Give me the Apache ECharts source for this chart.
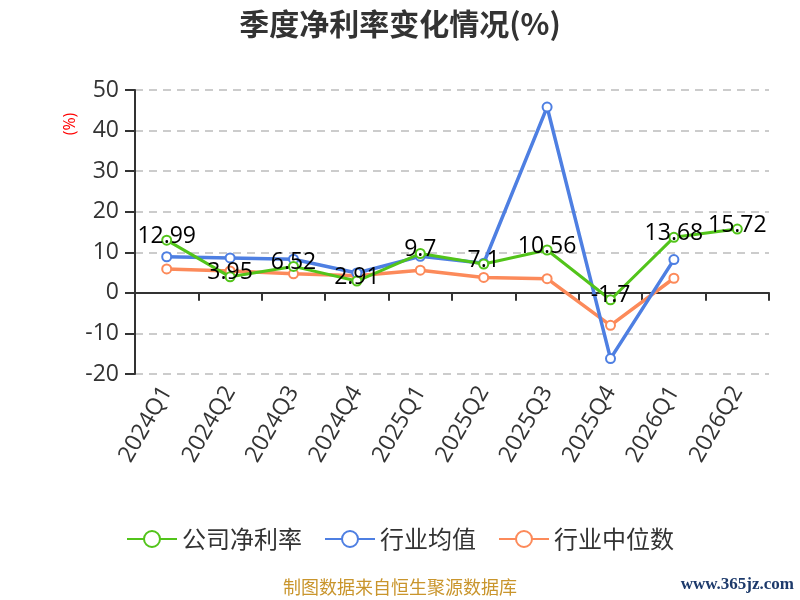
<!DOCTYPE html>
<html>
<head>
<meta charset="utf-8">
<title>季度净利率变化情况</title>
<script src="https://cdn.jsdelivr.net/npm/echarts@6/dist/echarts.min.js"></script>
<style>
    html, body { margin: 0; padding: 0; background: #fff; }
    #line { width: 800px; height: 600px; }
</style>
</head>
<body>
<div id="line"></div>
<script>
// 季度
const quarters = ['2024Q1', '2024Q2', '2024Q3', '2024Q4', '2025Q1', '2025Q2', '2025Q3', '2025Q4', '2026Q1', '2026Q2'];
// 公司净利率
const companyRate = [12.99, 3.95, 6.52, 2.91, 9.7, 7.1, 10.56, -1.7, 13.68, 15.72];
// 行业均值
const industryAvg = [8.9, 8.6, 8.3, 4.9, 9.0, 7.3, 45.8, -16.2, 8.2, null];
// 行业中位数
const industryMedian = [5.9, 5.4, 4.7, 4.2, 5.6, 3.8, 3.5, -8.0, 3.6, null];

const yTicks = { min: -20, max: 50, interval: 10 };

const fontFamily = '"Open Sans", "Noto Sans CJK SC", sans-serif';

function line_chart() {
    // 初始化实例
    let chartDom = document.getElementById('line');
    let chart = echarts.init(chartDom);
    window.addEventListener('resize', function () {
        chart.resize();
    });

    let option = {
        animation: false,
        textStyle: { fontFamily: fontFamily },
        title: {
            text: '季度净利率变化情况(%)',
            left: 'center',
            top: 4,
            textStyle: { fontSize: 30, fontWeight: 'bold', color: '#333', fontFamily: '"Noto Sans CJK SC", sans-serif' }
        },
        legend: {
            top: 522,
            left: 'center',
            itemWidth: 50,
            itemHeight: 20,
            itemGap: 22,
            textStyle: { fontSize: 24, color: '#333', fontFamily: '"Noto Sans CJK SC", sans-serif' },
            data: ['公司净利率', '行业均值', '行业中位数']
        },
        grid: { left: 135, right: 31, top: 90, bottom: 226 },
        xAxis: [
            {
                // 零轴上的轴线和刻度
                type: 'category',
                data: quarters,
                position: 'bottom',
                axisLine: { onZero: true, lineStyle: { color: '#333', width: 2 } },
                axisTick: { show: true, length: 8, lineStyle: { color: '#333', width: 2 } },
                axisLabel: { show: false }
            },
            {
                // 底部的标签
                type: 'category',
                data: quarters,
                position: 'bottom',
                axisLine: { show: false, onZero: false },
                axisTick: { show: false },
                axisLabel: { rotate: 60, fontSize: 23, color: '#333', margin: 14, interval: 0 }
            }
        ],
        yAxis: {
            type: 'value',
            min: yTicks.min,
            max: yTicks.max,
            interval: yTicks.interval,
            axisLine: { show: true, lineStyle: { color: '#333', width: 2 } },
            axisTick: { show: true, length: 10, lineStyle: { color: '#333', width: 2 } },
            axisLabel: { fontSize: 23, color: '#333', margin: 16 },
            splitLine: { lineStyle: { type: [8, 6], color: '#ccc', width: 2 } }
        },
        graphic: [
            {
                // 纵轴单位
                type: 'text',
                x: 70, y: 124,
                rotation: Math.PI / 2,
                style: {
                    text: '(%)', fill: '#ff0000', font: '16px "Open Sans", sans-serif',
                    textAlign: 'center', textVerticalAlign: 'middle'
                }
            },
            {
                type: 'text',
                left: 'center',
                top: 578,
                style: { text: '制图数据来自恒生聚源数据库', fill: '#c9952c', font: '18px "Noto Sans CJK SC", sans-serif' }
            },
            {
                type: 'text',
                right: 6,
                top: 576,
                style: { text: 'www.365jz.com', fill: '#1d3a6b', font: 'bold 17px "Liberation Serif", serif' }
            }
        ],
        series: [
            {
                name: '公司净利率',
                type: 'line',
                data: companyRate,
                color: '#52c41a',
                symbol: 'emptyCircle',
                symbolSize: 9,
                lineStyle: { width: 3 },
                z: 3,
                label: {
                    show: true,
                    position: 'inside',
                    offset: [0, -4],
                    fontSize: 23,
                    color: '#000'
                }
            },
            {
                name: '行业均值',
                type: 'line',
                data: industryAvg,
                color: '#4e7fe2',
                symbol: 'emptyCircle',
                symbolSize: 9,
                lineStyle: { width: 3.5 },
                z: 2
            },
            {
                name: '行业中位数',
                type: 'line',
                data: industryMedian,
                color: '#fc8a5a',
                symbol: 'emptyCircle',
                symbolSize: 9,
                lineStyle: { width: 3.5 },
                z: 1
            }
        ]
    };

    option && chart.setOption(option);
}

line_chart();
</script>
</body>
</html>
